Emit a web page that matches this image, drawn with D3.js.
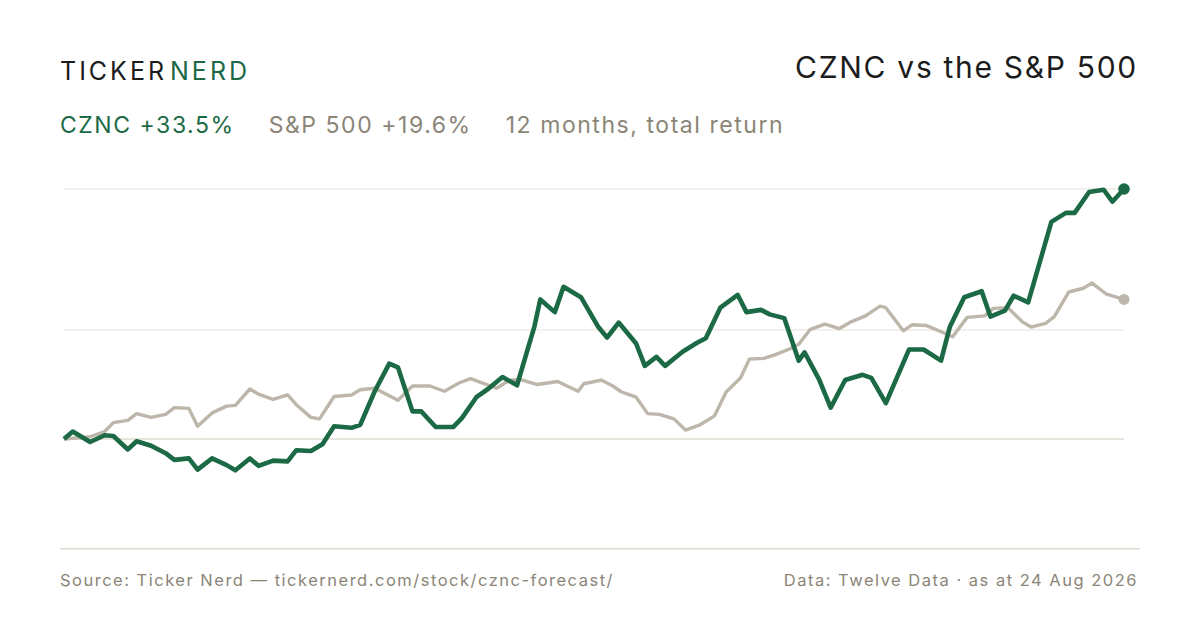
<!DOCTYPE html>
<html>
<head>
<meta charset="utf-8">
<script src="https://cdn.jsdelivr.net/npm/d3@7"></script>
<style>
  html, body { margin: 0; padding: 0; background: #fff; }
  svg text { font-family: Inter, "Noto Sans", sans-serif; }
</style>
</head>
<body>
<div id="chart"></div>
<script>
// days since 24 Aug 2025, total return in %
var czncDays = [0, 3, 9, 14, 17, 22, 25, 30, 35, 38, 43, 46, 51, 56, 59, 64, 67, 72, 77, 80,
  85, 89, 93, 99, 102, 107, 112, 115, 120, 123, 128, 134, 137, 142, 146, 151, 156, 162, 164, 169,
  172, 178, 184, 187, 191, 197, 200, 204, 207, 213, 218, 221, 226, 232, 235, 240, 243, 248, 253, 255,
  260, 264, 269, 275, 278, 283, 291, 296, 302, 305, 310, 316, 319, 324, 327, 332, 340, 345, 348, 353,
  358, 361, 365];
var czncReturn = [0, 1.0, -0.4, 0.5, 0.4, -1.4, -0.3, -0.9, -1.9, -2.8, -2.6, -4.1, -2.6, -3.5, -4.2, -2.6, -3.6, -2.9, -3.0, -1.5,
  -1.6, -0.7, 1.7, 1.5, 1.9, 6.4, 10.1, 9.6, 3.7, 3.7, 1.6, 1.6, 2.8, 5.6, 6.7, 8.3, 7.2, 15.1, 18.7, 17.0,
  20.4, 19.0, 15.0, 13.6, 15.6, 12.8, 9.8, 11.0, 9.8, 11.7, 12.9, 13.5, 17.6, 19.3, 17.0, 17.3, 16.7, 16.2, 10.5, 11.6,
  8.0, 4.2, 7.9, 8.6, 8.2, 4.8, 12.0, 12.0, 10.5, 15.0, 19.0, 19.8, 16.4, 17.2, 19.2, 18.3, 29.1, 30.3, 30.3, 33.1,
  33.4, 31.8, 33.5];

var spxDays = [0, 9, 14, 17, 22, 25, 30, 35, 38, 43, 46, 51, 56, 59, 64, 67, 72, 77, 80, 85,
  88, 93, 99, 102, 107, 115, 120, 126, 131, 136, 140, 149, 153, 157, 163, 170, 177, 179, 185, 189,
  192, 197, 201, 205, 210, 214, 219, 224, 228, 233, 236, 241, 245, 250, 253, 257, 262, 267, 271, 276,
  281, 283, 289, 292, 297, 300, 306, 311, 317, 320, 325, 330, 333, 338, 341, 346, 351, 354, 359, 365];
var spxReturn = [0, 0.3, 1.0, 2.2, 2.5, 3.4, 2.9, 3.3, 4.2, 4.1, 1.7, 3.5, 4.4, 4.5, 6.7, 6.0, 5.3, 5.9, 4.6, 2.9,
  2.7, 5.7, 5.9, 6.6, 6.8, 5.2, 7.1, 7.1, 6.4, 7.5, 8.1, 6.8, 7.8, 8.0, 7.3, 7.7, 6.4, 7.4, 7.9, 7.1,
  6.3, 5.6, 3.4, 3.3, 2.7, 1.2, 1.9, 3.1, 6.3, 8.2, 10.7, 10.8, 11.3, 12.1, 12.7, 14.7, 15.4, 14.8, 15.7, 16.5,
  17.8, 17.6, 14.5, 15.3, 15.2, 14.7, 13.7, 16.3, 16.5, 17.5, 17.6, 15.7, 15.0, 15.5, 16.4, 19.7, 20.2, 20.9, 19.4, 18.7];

var gridValues = [0, 14.6, 33.5];
var yDomain = [-14.7, 33.5];

var headline = [
  { text: "CZNC +33.5%", color: "#1b6a45" },
  { text: "S&P 500 +19.6%", color: "#8b8577" },
  { text: "12 months, total return", color: "#8b8577" }
];

function init() {
  var w = 1200;
  var h = 630;
  var green = "#1b6a45";
  var grey = "#bdb6aa";

  var svg = d3.select("#chart")
    .append("svg")
    .attr("width", w)
    .attr("height", h);

  var xScale = d3.scaleLinear()
    .domain([0, 365])
    .range([64, 1124]);

  var yScale = d3.scaleLinear()
    .domain(yDomain)
    .range([548.7, 189]);

  // header
  var logo = svg.append("text")
    .attr("x", 60)
    .attr("y", 80)
    .attr("font-size", 25)
    .attr("letter-spacing", 3);
  logo.append("tspan").attr("fill", "#1c1c1c").text("TICKER");
  logo.append("tspan").attr("fill", green).attr("dx", 3).text("NERD");

  svg.append("text")
    .attr("x", 1138)
    .attr("y", 78)
    .attr("text-anchor", "end")
    .attr("font-size", 30)
    .attr("letter-spacing", 1.7)
    .attr("fill", "#1c1c1c")
    .text("CZNC vs the S&P 500");

  var sub = svg.append("text")
    .attr("x", 60)
    .attr("y", 133)
    .attr("font-size", 23)
    .attr("letter-spacing", 1.55);
  headline.forEach(function(d, i) {
    sub.append("tspan")
      .attr("dx", i == 0 ? 0 : 34)
      .attr("fill", d.color)
      .text(d.text);
  });

  // grid
  svg.selectAll(".grid")
    .data(gridValues)
    .enter()
    .append("line")
    .attr("class", "grid")
    .attr("x1", 64)
    .attr("x2", 1124)
    .attr("y1", function(d) { return yScale(d); })
    .attr("y2", function(d) { return yScale(d); })
    .attr("stroke", function(d) { return d == 0 ? "#dedbd2" : "#eeebe5"; })
    .attr("stroke-width", 1.5);

  svg.append("line")
    .attr("x1", 60)
    .attr("x2", 1140)
    .attr("y1", yScale(yDomain[0]))
    .attr("y2", yScale(yDomain[0]))
    .attr("stroke", "#dedacf")
    .attr("stroke-width", 1.5);

  var line = d3.line()
    .x(function(d) { return xScale(d[0]); })
    .y(function(d) { return yScale(d[1]); });

  var spx = d3.zip(spxDays, spxReturn);
  var cznc = d3.zip(czncDays, czncReturn);

  svg.append("path")
    .datum(spx)
    .attr("d", line)
    .attr("fill", "none")
    .attr("stroke", grey)
    .attr("stroke-width", 3.4)
    .attr("stroke-linejoin", "round");

  svg.append("path")
    .datum(cznc)
    .attr("d", line)
    .attr("fill", "none")
    .attr("stroke", green)
    .attr("stroke-width", 4.6)
    .attr("stroke-linejoin", "round");

  svg.append("circle")
    .attr("cx", xScale(spx[spx.length - 1][0]))
    .attr("cy", yScale(spx[spx.length - 1][1]))
    .attr("r", 5.5)
    .attr("fill", grey);

  svg.append("circle")
    .attr("cx", xScale(cznc[cznc.length - 1][0]))
    .attr("cy", yScale(cznc[cznc.length - 1][1]))
    .attr("r", 5.8)
    .attr("fill", green);

  // footer
  svg.append("text")
    .attr("x", 60)
    .attr("y", 586)
    .attr("font-size", 16.5)
    .attr("letter-spacing", 1.5)
    .attr("fill", "#8b8577")
    .text("Source: Ticker Nerd \u2014 tickernerd.com/stock/cznc-forecast/");

  svg.append("text")
    .attr("x", 1138)
    .attr("y", 586)
    .attr("text-anchor", "end")
    .attr("font-size", 16.5)
    .attr("letter-spacing", 1.5)
    .attr("fill", "#8b8577")
    .text("Data: Twelve Data \u00b7 as at 24 Aug 2026");
}

window.onload = init;
</script>
</body>
</html>
